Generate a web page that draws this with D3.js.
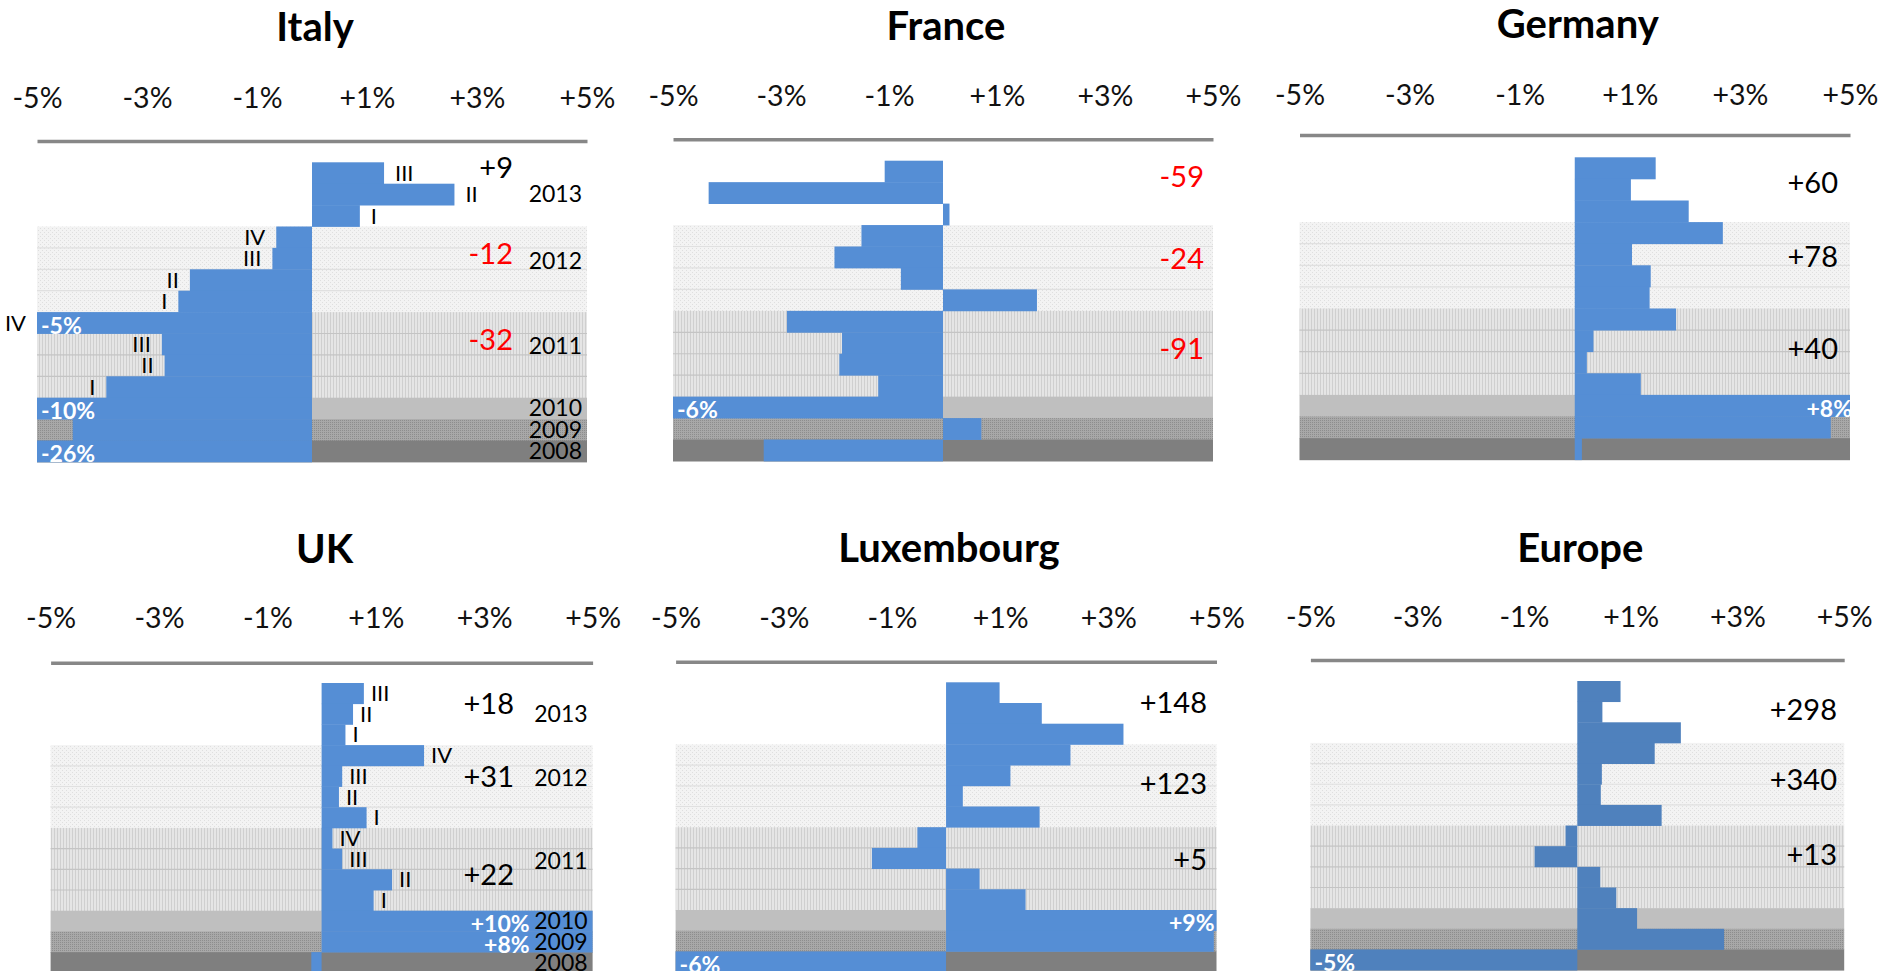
<!DOCTYPE html>
<html>
<head>
<meta charset="utf-8">
<script src="https://cdn.jsdelivr.net/npm/d3@7"></script>
<style>
    body { margin: 0; background: #fff; }
    text { font-family: Lato, "Open Sans", sans-serif; }
</style>
</head>
<body>
<svg id="chart" width="1890" height="971"></svg>
<script>
// rows, top to bottom
const rowKeys = ["2013 III", "2013 II", "2013 I", "2012 IV", "2012 III", "2012 II", "2012 I",
    "2011 IV", "2011 III", "2011 II", "2011 I", "2010", "2009", "2008"]
const quarterLabels = ["III", "II", "I", "IV", "III", "II", "I", "IV", "III", "II", "I", "", "", ""]
const years = ["2013", "2012", "2011", "2010", "2009", "2008"]
const yearRows = [3, 4, 4, 1, 1, 1]
const tickValues = [-5, -3, -1, 1, 3, 5]

// % change per row (bars beyond +/-5% are clipped)
const italyValues = [1.31, 2.59, 0.87, -0.65, -0.72, -2.22, -2.43, -5, -2.73, -2.68, -3.74, -10, -4.35, -26]
const franceValues = [-1.08, -4.34, 0.12, -1.51, -2.01, -0.78, 1.74, -2.89, -1.87, -1.92, -1.20, -6, 0.71, -3.32]
const germanyValues = [1.47, 1.02, 2.07, 2.69, 1.04, 1.38, 1.36, 1.84, 0.34, 0.22, 1.20, 8, 4.65, 0.13]
const ukValues = [0.78, 0.58, 0.44, 1.89, 0.38, 0.32, 0.83, 0.20, 0.38, 1.30, 0.96, 10, 8, -0.19]
const luxValues = [0.99, 1.77, 3.28, 2.30, 1.19, 0.31, 1.73, -0.53, -1.37, 0.62, 1.47, 9, 4.95, -6]
const europeValues = [0.81, 0.47, 1.94, 1.45, 0.46, 0.44, 1.58, -0.22, -0.80, 0.43, 0.73, 1.12, 2.75, -5]

// yearly totals for 2013, 2012, 2011
const italyTotals = ["+9", "-12", "-32"]
const franceTotals = ["-59", "-24", "-91"]
const germanyTotals = ["+60", "+78", "+40"]
const ukTotals = ["+18", "+31", "+22"]
const luxTotals = ["+148", "+123", "+5"]
const europeTotals = ["+298", "+340", "+13"]

// layout of the six charts
const panels = [
    {name: "Italy", values: italyValues, totals: italyTotals, x0: 37, x1: 587, axisY: 141, tickBase: 108, titleY: 41,
        top: 162.3, rowH: 21.4, roman: true, showYears: true, color: "#558ed5", totalX: 513, totalRows: [0.27, 1.28, 1.31], romanGap: 11, clipInset: 2},
    {name: "France", values: franceValues, totals: franceTotals, x0: 673, x1: 1213, axisY: 139.3, tickBase: 106, titleY: 40,
        top: 160.7, rowH: 21.45, roman: false, showYears: false, color: "#558ed5", totalX: 1204, totalRows: [0.75, 1.59, 1.77], romanGap: 8, clipInset: 2},
    {name: "Germany", values: germanyValues, totals: germanyTotals, x0: 1299.5, x1: 1850, axisY: 135, tickBase: 105, titleY: 38,
        top: 157.3, rowH: 21.6, roman: false, showYears: false, color: "#558ed5", totalX: 1838, totalRows: [1.16, 1.59, 1.88], romanGap: 8, clipInset: -2},
    {name: "UK", values: ukValues, totals: ukTotals, x0: 50.6, x1: 592.6, axisY: 662.7, tickBase: 628, titleY: 563,
        top: 683, rowH: 20.7, roman: true, showYears: true, color: "#558ed5", totalX: 514, totalRows: [1.0, 1.53, 2.27], romanGap: 7, clipInset: 63},
    {name: "Luxembourg", values: luxValues, totals: luxTotals, x0: 675.6, x1: 1216.5, axisY: 661.7, tickBase: 628, titleY: 562,
        top: 682.3, rowH: 20.7, roman: false, showYears: false, color: "#558ed5", totalX: 1207, totalRows: [1.01, 1.9, 1.58], romanGap: 8, clipInset: 2},
    {name: "Europe", values: europeValues, totals: europeTotals, x0: 1310.4, x1: 1844.2, axisY: 660, tickBase: 627, titleY: 562,
        top: 681, rowH: 20.65, roman: false, showYears: false, color: "#4f81bd", totalX: 1837, totalRows: [1.40, 1.78, 1.44], romanGap: 8, clipInset: 2}
]

const svg = d3.select("#chart")
const defs = svg.append("defs")

// textures of the year bands
function addPattern(id, size, bg, fg, cells) {
    const pat = defs.append("pattern").attr("id", id).attr("patternUnits", "userSpaceOnUse")
        .attr("width", size).attr("height", size)
    pat.append("rect").attr("width", size).attr("height", size).attr("fill", bg)
    cells.forEach(c => pat.append("rect").attr("x", c[0]).attr("y", c[1]).attr("width", c[2]).attr("height", c[3]).attr("fill", fg))
}
addPattern("p2012", 4, "#f3f3f3", "#dfdfdf", [[0, 0, 1, 1], [2, 2, 1, 1]])
addPattern("p2011", 3, "#e5e5e5", "#cfcfcf", [[0, 0, 1, 3]])
addPattern("p2009", 2, "#a8a8a8", "#8d8d8d", [[0, 0, 1, 1]])

const bandFills = [null, "url(#p2012)", "url(#p2011)", "#bfbfbf", "url(#p2009)", "#7f7f7f"]
const sepColors = [null, "#e0e0e0", "#c4c4c4", null, null, null]

// year groups built from the row list
let start = 0
const groups = years.map((yr, i) => {
    const rows = rowKeys.slice(start, start + yearRows[i])
    start += yearRows[i]
    return {year: yr, rows: rows, fill: bandFills[i], sep: sepColors[i]}
})

panels.forEach(p => {
    const g = svg.append("g").attr("class", "panel")

    const x = d3.scaleLinear().domain([-5, 5]).range([p.x0, p.x1]).clamp(true)
    const y = d3.scaleBand().domain(rowKeys).range([p.top, p.top + p.rowH * rowKeys.length])

    // background bands
    groups.forEach(gr => {
        if (!gr.fill) return
        const gy = y(gr.rows[0])
        g.append("rect")
            .attr("x", p.x0).attr("width", p.x1 - p.x0)
            .attr("y", gy).attr("height", y.bandwidth() * gr.rows.length + 0.5)
            .attr("fill", gr.fill)
        if (gr.sep) {
            g.selectAll(null).data(gr.rows.slice(1)).join("line")
                .attr("x1", p.x0).attr("x2", p.x1)
                .attr("y1", d => y(d)).attr("y2", d => y(d))
                .attr("stroke", gr.sep).attr("stroke-width", 1.2)
        }
    })

    // title
    g.append("text")
        .attr("x", (p.x0 + p.x1) / 2 + 3).attr("y", p.titleY)
        .attr("text-anchor", "middle")
        .attr("font-size", 40).attr("font-weight", "bold").attr("fill", "#000")
        .text(p.name)

    // axis with labels above the line
    const axis = d3.axisTop(x)
        .tickValues(tickValues)
        .tickSize(0)
        .tickPadding(p.axisY - p.tickBase)
        .tickFormat(d => (d > 0 ? "+" : "") + d + "%")
    g.append("g")
        .attr("transform", `translate(0,${p.axisY})`)
        .call(axis)
        .call(a => a.attr("font-family", null).attr("font-size", null))
        .call(a => a.select(".domain").attr("stroke", "#878787").attr("stroke-width", 3.5))
        .call(a => a.selectAll(".tick text").attr("font-size", 28.5).attr("fill", "#111"))

    const rows = p.values.map((v, i) => ({key: rowKeys[i], v: v, q: quarterLabels[i]}))

    // bars
    g.selectAll(".bar").data(rows).join("rect")
        .attr("class", "bar")
        .attr("x", d => Math.min(x(0), x(d.v)))
        .attr("width", d => Math.abs(x(d.v) - x(0)))
        .attr("y", d => y(d.key))
        .attr("height", y.bandwidth() + 0.4)
        .attr("fill", p.color)

    // clipped values written inside the bar
    g.selectAll(".clip").data(rows.filter(d => Math.abs(d.v) >= 5)).join("text")
        .attr("class", "clip")
        .attr("x", d => d.v < 0 ? p.x0 + 4 : p.x1 - p.clipInset)
        .attr("y", d => y(d.key) + y.bandwidth() / 2 + 3)
        .attr("dy", "0.35em")
        .attr("text-anchor", d => d.v < 0 ? "start" : "end")
        .attr("font-size", 23).attr("font-weight", "bold").attr("fill", "#fff")
        .text(d => (d.v > 0 ? "+" : "-") + Math.round(Math.abs(d.v)) + "%")

    // quarter labels
    if (p.roman) {
        g.selectAll(".q").data(rows.filter(d => d.q)).join("text")
            .attr("class", "q")
            .attr("x", d => d.v >= 0 ? x(d.v) + p.romanGap : x(d.v) - p.romanGap)
            .attr("y", d => y(d.key) + y.bandwidth() / 2)
            .attr("dy", "0.35em")
            .attr("text-anchor", d => d.v >= 0 ? "start" : "end")
            .attr("font-size", 22).attr("fill", "#000")
            .text(d => d.q)
    }

    // year labels
    if (p.showYears) {
        g.selectAll(".yr").data(groups).join("text")
            .attr("class", "yr")
            .attr("x", p.x1 - 5)
            .attr("y", d => y(d.rows[0]) + Math.min(1.6, d.rows.length / 2) * y.bandwidth())
            .attr("dy", "0.35em")
            .attr("text-anchor", "end")
            .attr("font-size", 23).attr("fill", "#000")
            .text(d => d.year)
    }

    // yearly totals
    g.selectAll(".tot").data(p.totals).join("text")
        .attr("class", "tot")
        .attr("x", p.totalX)
        .attr("y", (d, i) => y(groups[i].rows[0]) + p.totalRows[i] * y.bandwidth())
        .attr("dy", "0.35em")
        .attr("text-anchor", "end")
        .attr("font-size", 29)
        .attr("fill", d => d.startsWith("-") ? "#ff0000" : "#000")
        .text(d => d)
})
</script>
</body>
</html>
